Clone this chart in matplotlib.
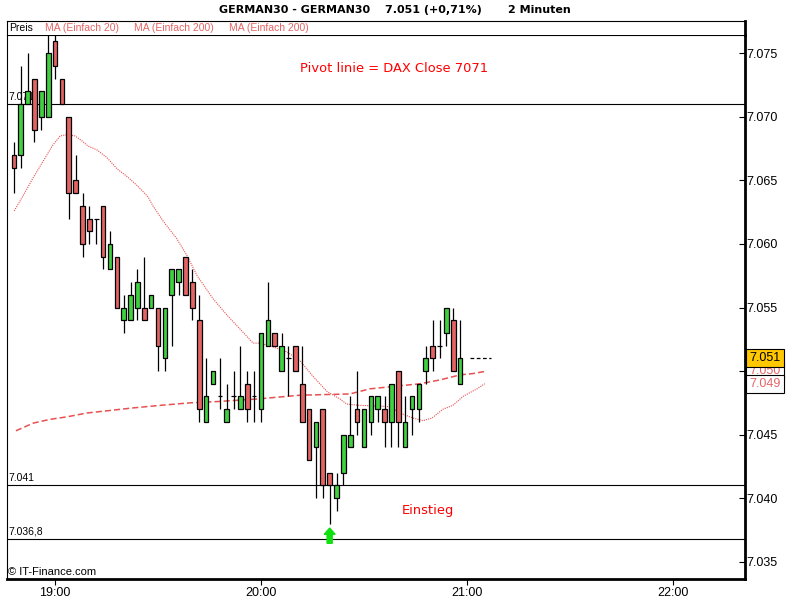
import matplotlib
matplotlib.use('Agg')
import matplotlib.pyplot as plt
from matplotlib.patches import FancyArrow

plt.rcParams['font.family'] = ['Liberation Sans', 'DejaVu Sans']

# 2-minute bars, time in minutes relative to 19:00 (18:48 ... 20:58)
bar_minutes = list(range(-12, 120, 2))

opens = [7067, 7067, 7071, 7073, 7070, 7070, 7076, 7073, 7070, 7065, 7063, 7062, 7062, 7063, 7058,
         7059, 7054, 7054, 7055, 7055, 7055, 7055, 7051, 7056, 7057, 7059, 7057, 7054, 7046, 7049,
         7048, 7046, 7048, 7047, 7049, 7048, 7047, 7052, 7053, 7050, 7051, 7052, 7049, 7047, 7044,
         7047, 7042, 7040, 7042, 7044, 7047, 7044, 7046, 7047, 7047, 7046, 7050, 7044, 7047, 7047,
         7050, 7052, 7052, 7053, 7054, 7049]
highs = [7068, 7074, 7075, 7073, 7072, 7077, 7077, 7073, 7070, 7067, 7064, 7063, 7062, 7063, 7061,
         7059, 7056, 7057, 7058, 7059, 7056, 7055, 7055, 7058, 7058, 7059, 7058, 7056, 7051, 7050,
         7051, 7049, 7050, 7052, 7050, 7050, 7053, 7057, 7053, 7053, 7052, 7052, 7052, 7047, 7046,
         7047, 7042, 7042, 7045, 7048, 7050, 7047, 7048, 7048, 7048, 7049, 7050, 7048, 7048, 7049,
         7052, 7054, 7054, 7055, 7055, 7054]
lows = [7064, 7066, 7071, 7068, 7069, 7070, 7073, 7071, 7062, 7064, 7059, 7060, 7060, 7058, 7058,
        7055, 7053, 7054, 7054, 7054, 7055, 7050, 7050, 7052, 7056, 7056, 7054, 7046, 7046, 7049,
        7047, 7046, 7047, 7047, 7046, 7046, 7046, 7052, 7052, 7050, 7048, 7050, 7046, 7043, 7040,
        7040, 7038, 7039, 7041, 7044, 7045, 7044, 7045, 7046, 7044, 7044, 7044, 7044, 7045, 7046,
        7049, 7050, 7051, 7052, 7050, 7049]
closes = [7066, 7071, 7072, 7069, 7072, 7075, 7074, 7071, 7064, 7064, 7060, 7061, 7062, 7059, 7060,
          7055, 7055, 7056, 7057, 7054, 7056, 7052, 7055, 7058, 7058, 7056, 7055, 7047, 7048, 7050,
          7048, 7047, 7048, 7048, 7047, 7048, 7053, 7054, 7052, 7052, 7051, 7050, 7046, 7043, 7046,
          7041, 7041, 7041, 7045, 7045, 7046, 7047, 7048, 7048, 7046, 7049, 7046, 7046, 7048, 7049,
          7051, 7051, 7052, 7055, 7050, 7051]

# moving averages (minutes, price)
ma20_minutes = [-11.9, -9.3, -6.4, -3.5, -0.6, 1.5, 3.5, 5.8, 7.9, 9.6, 12.2, 15.1, 18.1, 21.0,
                23.9, 27.1, 28.5, 31.5, 35.5, 38.4, 41.4, 46.0, 50.1, 53.9, 57.7, 59.7, 63.5,
                67.6, 71.4, 75.1, 79.2, 83.0, 85.0, 88.8, 97.6, 100.5, 104.3, 107.2, 109.8,
                113.0, 115.9, 118.8, 122.9, 125.2]
ma20_values = [7062.6, 7063.8, 7065.2, 7066.5, 7067.8, 7068.5, 7068.6, 7068.5, 7068.1, 7067.7,
               7067.4, 7066.8, 7065.9, 7065.3, 7064.6, 7063.7, 7063.0, 7061.8, 7060.4, 7059.1,
               7057.5, 7055.7, 7054.4, 7053.3, 7052.2, 7052.2, 7051.9, 7051.5, 7050.8, 7049.6,
               7048.4, 7047.8, 7047.4, 7047.3, 7047.2, 7046.7, 7046.3, 7046.1, 7046.3, 7047.0,
               7047.3, 7048.0, 7048.6, 7049.0]
ma200_minutes = [-11.4, -6.4, -1.5, 3.5, 9.3, 16.0, 22.7, 30.6, 39.3, 47.2, 58.8, 71.4, 85.9,
                 91.7, 106.3, 112.1, 118.0, 121.7, 125.8]
ma200_values = [7045.3, 7045.9, 7046.2, 7046.4, 7046.7, 7046.9, 7047.1, 7047.3, 7047.5, 7047.6,
                7047.8, 7048.1, 7048.2, 7048.6, 7049.0, 7049.3, 7049.7, 7049.8, 7050.0]

level_prices = [7071, 7041, 7036.8]
level_labels = ['7.071', '7.041', '7.036,8']
y_ticks = [7035, 7040, 7045, 7050, 7055, 7060, 7065, 7070, 7075]
y_tick_labels = ['7.035', '7.040', '7.045', '7.050', '7.055', '7.060', '7.065', '7.070', '7.075']
x_ticks = [0, 60, 120, 180]
x_tick_labels = ['19:00', '20:00', '21:00', '22:00']
last_price = 7051
entry_minute = 80

green = '#40d040'
red = '#e46464'
ma_red = '#e85050'

fig = plt.figure(figsize=(8, 6), dpi=100)
ax = fig.add_axes([7 / 800, 21 / 600, 738 / 800, 544 / 600])
strip = fig.add_axes([7 / 800, 565 / 600, 738 / 800, 14 / 600])

# candles
ax.vlines(bar_minutes, lows, highs, color='black', linewidth=0.9, zorder=3)
for m, o, c in zip(bar_minutes, opens, closes):
    col = green if c > o else red
    ax.bar(m, c - o, bottom=o, width=1.35, color=col, edgecolor='black',
           linewidth=0.9, zorder=4)

# moving averages
ax.plot(ma20_minutes, ma20_values, color=ma_red, linewidth=0.8,
        linestyle=(0, (1, 1)), zorder=2)
ax.plot(ma200_minutes, ma200_values, color=ma_red, linewidth=1.1,
        linestyle=(0, (4, 2)), zorder=2)

# horizontal levels
for p, lab in zip(level_prices, level_labels):
    ax.axhline(p, color='black', linewidth=0.8, zorder=1)
    ax.annotate(lab, xy=(0.002, p), xycoords=('axes fraction', 'data'),
                xytext=(0, 1.5), textcoords='offset points', ha='left', va='bottom',
                fontsize=7.5, zorder=1)

# current price dashes
ax.hlines(last_price, 121, 127, color='black', linewidth=0.9, linestyle=(0, (3, 2)))

ax.text(98.8, 7073.8, 'Pivot linie = DAX Close 7071', color='red', fontsize=9.4,
        family='DejaVu Sans', ha='center', va='center')
ax.text(108.7, 7039.0, 'Einstieg', color='red', fontsize=9.4,
        family='DejaVu Sans', ha='center', va='center')

ax.add_patch(FancyArrow(entry_minute, 7036.45, 0, 1.2, width=1.5, head_width=3.2,
                        head_length=0.5, length_includes_head=True, color='#10e010',
                        zorder=5))

ax.set_xlim(-14, 201)
ax.set_ylim(7033.64, 7076.44)
ax.yaxis.tick_right()
ax.set_yticks(y_ticks)
ax.set_yticklabels(y_tick_labels)
ax.set_xticks(x_ticks)
ax.set_xticklabels(x_tick_labels)
ax.tick_params(axis='y', direction='in', length=4, width=0.8, pad=1, labelsize=9)
ax.tick_params(axis='x', direction='out', length=4, width=0.8, pad=2, labelsize=9)
for side in ['left', 'top']:
    ax.spines[side].set_linewidth(0.8)
for side in ['right', 'bottom']:
    ax.spines[side].set_linewidth(2)

# price boxes on the right axis (MA values partly hidden behind the last price)
box_pad = 'square,pad=0.25'
ax.annotate('7.050', xy=(1, 7050), xycoords=('axes fraction', 'data'), xytext=(3, 0),
            textcoords='offset points', ha='left', va='center', fontsize=9, color=red,
            annotation_clip=False,
            bbox=dict(boxstyle=box_pad, fc='white', ec='black', lw=0.8))
ax.annotate('7.049', xy=(1, 7049), xycoords=('axes fraction', 'data'), xytext=(3, 0),
            textcoords='offset points', ha='left', va='center', fontsize=9, color=red,
            annotation_clip=False,
            bbox=dict(boxstyle=box_pad, fc='white', ec='black', lw=0.8))
ax.annotate('7.051', xy=(1, last_price), xycoords=('axes fraction', 'data'), xytext=(3, 0),
            textcoords='offset points', ha='left', va='center', fontsize=9, color='black',
            annotation_clip=False,
            bbox=dict(boxstyle=box_pad, fc='#ffc800', ec='black', lw=0.8))

# legend strip
strip.set_xticks([])
strip.set_yticks([])
strip.spines['bottom'].set_visible(False)
strip.spines['left'].set_linewidth(0.8)
strip.spines['top'].set_linewidth(0.8)
strip.spines['right'].set_linewidth(2)
fig.text(9 / 800, 1 - 28 / 600, 'Preis', fontsize=7.5, va='center')
fig.text(45 / 800, 1 - 28 / 600, 'MA (Einfach 20)', fontsize=7.5, va='center', color=red)
fig.text(134 / 800, 1 - 28 / 600, 'MA (Einfach 200)', fontsize=7.5, va='center', color=red)
fig.text(229 / 800, 1 - 28 / 600, 'MA (Einfach 200)', fontsize=7.5, va='center', color=red)

# title
fig.text(219 / 800, 1 - 10 / 600, 'GERMAN30 - GERMAN30', fontsize=8, weight='bold',
         family='DejaVu Sans', va='center')
fig.text(385 / 800, 1 - 10 / 600, '7.051 (+0,71%)', fontsize=8, weight='bold',
         family='DejaVu Sans', va='center')
fig.text(508 / 800, 1 - 10 / 600, '2 Minuten', fontsize=8, weight='bold',
         family='DejaVu Sans', va='center')

fig.text(8 / 800, 1 - 572 / 600, '© IT-Finance.com', fontsize=8, va='center')

fig.savefig('out.png', dpi=100)
